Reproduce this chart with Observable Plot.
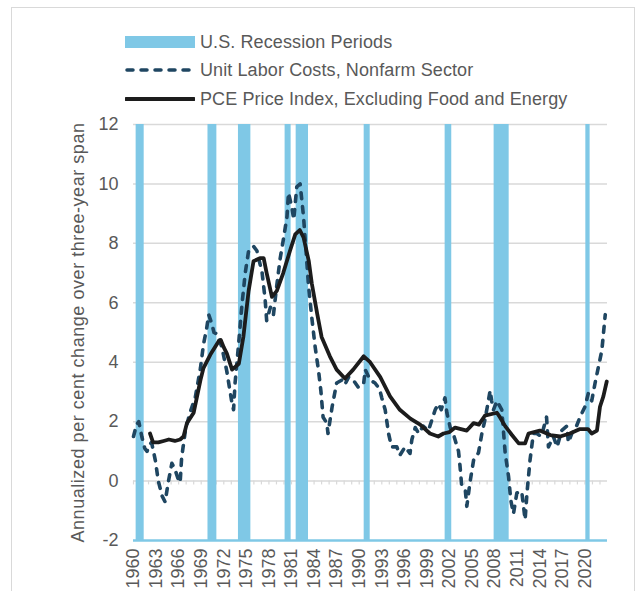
<!DOCTYPE html>
<html><head><meta charset="utf-8">
<script src="https://cdn.jsdelivr.net/npm/d3@7"></script>
<script src="https://cdn.jsdelivr.net/npm/@observablehq/plot@0.6"></script>
<style>
body{margin:0;width:638px;height:591px;overflow:hidden;background:#fff;font-family:"Liberation Sans",Arial,sans-serif;position:relative;}
#frame{position:absolute;left:11px;top:7px;width:624px;height:640px;border:1.5px solid #d9d9d9;box-sizing:border-box;}
.item{position:absolute;left:125px;height:20px;display:flex;align-items:center;white-space:nowrap;font-size:18px;color:#595959;letter-spacing:0.1px;}
.item svg{margin-right:5px;}
#chart{position:absolute;left:0;top:110px;}
#chart g[aria-label="y-axis label"] text{letter-spacing:0.55px;}
</style>
</head><body>
<div id="frame"></div>
<div class="item" style="top:32px"><svg width="70" height="14"><rect x="0" y="1" width="70" height="12" fill="#7fc8e6"/></svg><span>U.S. Recession Periods</span></div>
<div class="item" style="top:60px"><svg width="70" height="14"><line x1="2" y1="7" x2="68" y2="7" stroke="#1f4661" stroke-width="3.5" stroke-dasharray="6,8" stroke-linecap="round"/></svg><span>Unit Labor Costs, Nonfarm Sector</span></div>
<div class="item" style="top:89px"><svg width="70" height="14"><line x1="1" y1="7" x2="69" y2="7" stroke="#1c1c1c" stroke-width="4" stroke-linecap="round"/></svg><span>PCE Price Index, Excluding Food and Energy</span></div>
<div id="chart"></div>
<script>
// Recession periods (start, end in fractional years)
const recessionStart = [1960.35, 1969.9, 1973.95, 1980.15, 1981.62, 1990.66, 2001.42, 2007.93, 2020.12];
const recessionEnd   = [1961.42, 1971.08, 1975.6, 1980.95, 1983.26, 1991.46, 2002.3, 2009.93, 2020.69];

// Unit labor costs, nonfarm sector (annualized % change over three-year span)
const ulcTime = [1960.0,1960.4,1960.7,1961.1,1961.5,1961.8,1962.1,1962.4,1962.9,1963.3,1963.8,1964.2,1964.65,1965.1,1965.5,1965.9,1966.2,1966.4,1966.9,1967.5,1968.2,1968.9,1969.3,1969.7,1970.0,1970.4,1970.7,1971.1,1971.75,1972.4,1973.1,1973.3,1973.5,1974.0,1974.4,1974.85,1975.3,1975.95,1976.4,1977.1,1977.5,1977.7,1978.2,1978.6,1979.05,1979.5,1979.9,1980.4,1980.6,1981.05,1981.3,1981.7,1982.15,1982.6,1983.0,1983.25,1983.7,1984.15,1984.6,1984.9,1985.2,1985.7,1985.85,1986.4,1987.0,1987.7,1988.1,1988.6,1989.2,1989.9,1990.6,1990.8,1991.45,1992.1,1992.7,1993.0,1993.45,1993.9,1994.3,1995.0,1995.4,1996.1,1996.75,1997.0,1997.45,1997.9,1998.5,1999.2,1999.65,2000.1,2000.5,2000.9,2001.4,2001.65,2002.1,2002.5,2003.2,2003.4,2003.6,2004.1,2004.3,2004.75,2005.2,2005.85,2006.3,2006.7,2007.1,2007.4,2007.6,2007.85,2008.3,2008.95,2009.4,2009.85,2010.15,2010.5,2010.95,2011.6,2012.05,2012.3,2012.7,2013.15,2013.6,2014.2,2014.9,2015.15,2015.8,2016.3,2016.9,2017.6,2017.8,2018.25,2018.8,2019.35,2020.0,2020.45,2020.9,2021.35,2021.8,2022.25,2022.7];
const ulcValue = [1.5,1.9,2.0,1.5,1.1,1.0,1.2,1.3,0.7,0.0,-0.5,-0.7,0.0,0.6,0.4,0.1,-0.05,0.8,1.7,2.3,2.8,3.8,4.6,5.1,5.6,5.3,5.0,4.95,4.5,3.7,2.6,2.4,3.3,4.7,5.9,7.0,7.75,7.9,7.75,7.0,6.1,5.4,5.85,5.6,6.6,7.5,8.1,8.9,9.7,9.2,8.8,9.9,10.0,8.9,7.5,6.6,5.5,4.5,3.7,3.05,2.15,1.95,1.6,2.5,3.3,3.4,3.25,3.5,3.4,3.15,3.3,3.75,3.4,3.3,3.1,2.8,2.4,1.6,1.15,1.15,0.87,1.15,0.93,1.4,1.8,1.6,1.85,1.7,2.05,2.4,2.6,2.4,2.8,2.3,1.8,1.6,1.0,0.5,-0.1,-0.3,-0.85,0.0,0.7,0.95,1.6,2.05,2.6,3.05,2.7,2.4,2.7,2.4,0.95,0.15,-0.65,-1.1,-0.4,-0.35,-1.3,-0.4,0.7,1.6,1.6,1.5,2.15,1.15,1.5,1.15,1.7,1.85,1.3,1.6,1.8,2.15,2.5,2.95,2.7,3.3,3.85,4.4,5.6];

// PCE price index excluding food and energy
const pceTime = [1962.2,1962.6,1963.3,1964.0,1964.7,1965.5,1966.2,1966.65,1967.1,1968.0,1968.9,1969.3,1970.2,1971.3,1971.6,1972.0,1972.4,1973.1,1974.0,1974.6,1975.3,1975.95,1976.8,1977.3,1977.7,1978.4,1979.05,1979.9,1980.8,1981.5,1982.1,1982.6,1983.3,1983.7,1984.4,1985.0,1986.1,1987.0,1988.1,1989.2,1990.6,1991.45,1992.8,1994.1,1995.4,1996.8,1998.1,1999.4,2000.5,2001.2,2002.0,2002.75,2004.3,2005.2,2005.9,2006.7,2008.3,2008.7,2009.4,2010.3,2011.2,2012.05,2012.5,2014.0,2015.4,2016.7,2018.0,2019.35,2020.4,2020.9,2021.6,2022.0,2022.45,2022.9];
const pceValue = [1.6,1.3,1.3,1.35,1.4,1.35,1.4,1.5,1.95,2.3,3.4,3.8,4.25,4.7,4.75,4.5,4.3,3.75,3.95,4.85,6.4,7.4,7.5,7.5,7.0,6.2,6.4,7.0,7.75,8.3,8.45,8.2,7.4,6.65,5.65,4.85,4.2,3.75,3.45,3.75,4.2,4.0,3.5,2.85,2.4,2.1,1.9,1.6,1.5,1.6,1.65,1.8,1.7,1.95,1.9,2.2,2.3,2.15,1.85,1.55,1.27,1.27,1.6,1.7,1.55,1.5,1.6,1.75,1.75,1.6,1.7,2.5,2.85,3.35];

// Axis ticks
const yTicks = [-2, 0, 2, 4, 6, 8, 10, 12];
const xTickLabels = [1960,1963,1966,1969,1972,1975,1978,1981,1984,1987,1990,1993,1996,1999,2002,2005,2008,2011,2014,2017,2020];
const minorYears = d3.range(1960, 2023);

const recessions = recessionStart.map((s, i) => ({start: s, end: recessionEnd[i]}));
const ulc = ulcTime.map((t, i) => ({t, v: ulcValue[i]}));
const pce = pceTime.map((t, i) => ({t, v: pceValue[i]}));

const BLUE = "#7fc8e6";
const chart = Plot.plot({
  width: 638,
  height: 481,
  marginTop: 14,
  marginBottom: 51,
  marginLeft: 133,
  marginRight: 31,
  style: {fontFamily: '"Liberation Sans", Arial, sans-serif', fontSize: "18px", color: "#595959", background: "transparent"},
  x: {type: "linear", domain: [1960, 2023]},
  y: {domain: [-2, 12]},
  marks: [
    Plot.ruleY(yTicks.filter(d => d > -2), {stroke: "#d9d9d9", strokeWidth: 1.5}),
    Plot.ruleX(minorYears, {x: d => d, y1: 0, y2: -0.13, stroke: "#d9d9d9", strokeWidth: 1.2}),
    Plot.rect(recessions, {x1: "start", x2: "end", y1: -2, y2: 12, fill: BLUE}),
    Plot.ruleY([-2], {stroke: BLUE, strokeWidth: 2.5}),
    Plot.line(ulc, {x: "t", y: "v", stroke: "#1f4661", strokeWidth: 3.6, strokeDasharray: "6,8", strokeLinecap: "round", strokeLinejoin: "round"}),
    Plot.line(pce, {x: "t", y: "v", stroke: "#1c1c1c", strokeWidth: 3.8, strokeLinejoin: "round"}),
    Plot.axisY({ticks: yTicks, tickSize: 0, tickPadding: 15, tickFormat: d => String(d), label: "Annualized per cent change over three-year span", labelAnchor: "center", labelArrow: "none", labelOffset: 62}),
    Plot.axisX({ticks: xTickLabels, tickFormat: d => String(d), tickRotate: -90, tickSize: 0, tickPadding: 8, label: null})
  ]
});
document.getElementById("chart").appendChild(chart);
</script>
</body></html>
